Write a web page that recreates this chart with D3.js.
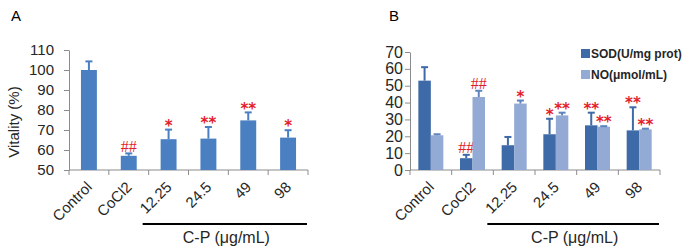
<!DOCTYPE html>
<html lang="en">
<head>
    <meta charset="UTF-8">
    <title>Vitality, SOD and NO</title>
    <script src="https://cdn.jsdelivr.net/npm/d3@7"></script>
    <style>
        body { margin: 0; background: #fff; }
        text { font-family: "Liberation Sans", Arial, sans-serif; }
    </style>
</head>
<body>
<div id="chart"></div>
<script>
    var categories = ["Control", "CoCl2", "12.25", "24.5", "49", "98"];

    // panel A
    var vitality = [100, 57.1, 65.4, 65.7, 74.8, 66.2];
    var vitalityErr = [104.3, 58.3, 70.2, 71.5, 78.8, 69.9];
    var vitalityMark = ["", "##", "*", "**", "**", "*"];
    var ticksA = [50, 60, 70, 80, 90, 100, 110];

    // panel B
    var series = ["SOD(U/mg prot)", "NO(μmol/mL)"];
    var sod = [53, 7, 14.7, 21.2, 26.5, 23.5];
    var sodErr = [61, 9, 19.6, 30.4, 34, 37.2];
    var sodMark = ["", "##", "", "*", "**", "**"];
    var no = [20.6, 43.3, 39.4, 32.4, 25.7, 24.1];
    var noErr = [21.2, 47, 41.2, 34, 26, 24.5];
    var noMark = ["", "##", "*", "**", "**", "**"];
    var ticksB = [0, 10, 20, 30, 40, 50, 60, 70];

    var axisColor = "#8c8c8c";
    var red = "#e3202a";

    var svg = d3.select("#chart")
            .append("svg")
            .attr("width", 686)
            .attr("height", 251);

    // red ## / * marks, centred a few px above the error cap
    function mark(g, x, yTop, s) {
        if (!s) return;
        var hash = s.indexOf("#") >= 0;
        g.append("text")
                .attr("x", x)
                .attr("y", yTop - 7 + (hash ? 5.3 : 8.2))
                .attr("text-anchor", "middle")
                .style("font-family", hash ? "'Liberation Serif', serif" : "'DejaVu Sans', sans-serif")
                .style("font-weight", hash ? "normal" : "bold")
                .style("font-size", hash ? "16px" : "15px")
                .style("fill", red)
                .text(s);
    }

    function errBar(g, x, y0, y1, color) {
        g.append("line").attr("x1", x).attr("x2", x).attr("y1", y0).attr("y2", y1)
                .attr("stroke", color).attr("stroke-width", 2);
        g.append("line").attr("x1", x - 3.5).attr("x2", x + 3.5).attr("y1", y1).attr("y2", y1)
                .attr("stroke", color).attr("stroke-width", 2);
    }

    function frame(g, x, y, ticks, pad, fontSize) {
        var yAxis = g.append("g")
                .attr("transform", "translate(" + x.range()[0] + ",0)")
                .call(d3.axisLeft(y).tickValues(ticks).tickSize(5).tickPadding(pad).tickSizeOuter(0));
        yAxis.select(".domain").attr("stroke", axisColor);
        yAxis.selectAll(".tick line").attr("stroke", axisColor);
        yAxis.selectAll(".tick text")
                .style("font-family", "'Liberation Sans', sans-serif")
                .style("font-size", fontSize + "px")
                .attr("fill", "#262626");

        var base = y.range()[0];
        var r = x.range();
        g.append("line").attr("x1", r[0]).attr("x2", r[1]).attr("y1", base).attr("y2", base)
                .attr("stroke", axisColor);
        var bounds = categories.map(function (c) { return x(c); }).concat([r[1]]);
        g.selectAll(".xt").data(bounds).enter().append("line")
                .attr("x1", function (d) { return d; }).attr("x2", function (d) { return d; })
                .attr("y1", base).attr("y2", base + 5)
                .attr("stroke", axisColor);

        g.selectAll(".xl").data(categories).enter().append("text")
                .attr("transform", function (d) {
                    return "translate(" + (x(d) + x.bandwidth() / 2 + 4) + "," + (base + 18) + ") rotate(-45)";
                })
                .attr("text-anchor", "end")
                .style("font-size", "15px")
                .style("fill", "#262626")
                .text(function (d) { return d; });

        // bracket under the C-P doses
        g.append("line")
                .attr("x1", x("12.25") - 6).attr("x2", r[1] - 1)
                .attr("y1", 224).attr("y2", 224)
                .attr("stroke", "#000").attr("stroke-width", 2);
        g.append("text")
                .attr("x", (x("12.25") + r[1]) / 2 - 2)
                .attr("y", 243)
                .attr("text-anchor", "middle")
                .style("font-size", "16px")
                .style("fill", "#262626")
                .text("C-P (μg/mL)");
    }

    // ---------- A ----------
    var gA = svg.append("g");
    var xA = d3.scaleBand().domain(categories).range([69, 308]);
    var yA = d3.scaleLinear().domain([50, 110]).range([170, 50]);
    var bwA = xA.bandwidth() * 0.4;
    var colorA = "#4a7fc1";

    gA.append("text").attr("x", 11).attr("y", 21).style("font-size", "15px").text("A");
    frame(gA, xA, yA, ticksA, 10, 15);

    gA.append("text")
            .attr("transform", "translate(19,122) rotate(-90)")
            .attr("text-anchor", "middle")
            .style("font-size", "15px")
            .style("fill", "#262626")
            .text("Vitality (%)");

    categories.forEach(function (c, i) {
        var cx = xA(c) + xA.bandwidth() / 2;
        gA.append("rect")
                .attr("x", cx - bwA / 2).attr("width", bwA)
                .attr("y", yA(vitality[i])).attr("height", yA(50) - yA(vitality[i]))
                .attr("fill", colorA);
        errBar(gA, cx, yA(vitality[i]), yA(vitalityErr[i]), colorA);
        mark(gA, cx, yA(vitalityErr[i]), vitalityMark[i]);
    });

    // ---------- B ----------
    var gB = svg.append("g");
    var xB = d3.scaleBand().domain(categories).range([410, 660]);
    var yB = d3.scaleLinear().domain([0, 70]).range([170, 52]);
    var inner = d3.scaleBand().domain(series).range([xB.bandwidth() * 0.2, xB.bandwidth() * 0.8]);
    var colorB = d3.scaleOrdinal().domain(series).range(["#3e6aa8", "#93aad4"]);
    var errColorB = d3.scaleOrdinal().domain(series).range(["#3e6aa8", "#5f84bd"]);

    gB.append("text").attr("x", 389).attr("y", 21).style("font-size", "15px").text("B");
    frame(gB, xB, yB, ticksB, 2, 16);

    var valuesB = [sod, no], errsB = [sodErr, noErr], marksB = [sodMark, noMark];
    series.forEach(function (s, k) {
        categories.forEach(function (c, i) {
            var x0 = xB(c) + inner(s);
            var cx = x0 + inner.bandwidth() / 2;
            gB.append("rect")
                    .attr("x", x0).attr("width", inner.bandwidth())
                    .attr("y", yB(valuesB[k][i])).attr("height", yB(0) - yB(valuesB[k][i]))
                    .attr("fill", colorB(s));
            errBar(gB, cx, yB(valuesB[k][i]), yB(errsB[k][i]), errColorB(s));
            mark(gB, cx, yB(errsB[k][i]), marksB[k][i]);
        });
    });

    // legend
    var legend = gB.selectAll(".lg").data(series).enter().append("g")
            .attr("transform", function (d, i) { return "translate(581," + (49 + i * 21) + ")"; });
    legend.append("rect").attr("width", 9).attr("height", 9)
            .attr("fill", function (d) { return colorB(d); });
    legend.append("text").attr("x", 10).attr("y", 9)
            .style("font-size", "12px").style("font-weight", "bold")
            .style("fill", "#262626")
            .text(function (d) { return d; });
</script>
</body>
</html>
